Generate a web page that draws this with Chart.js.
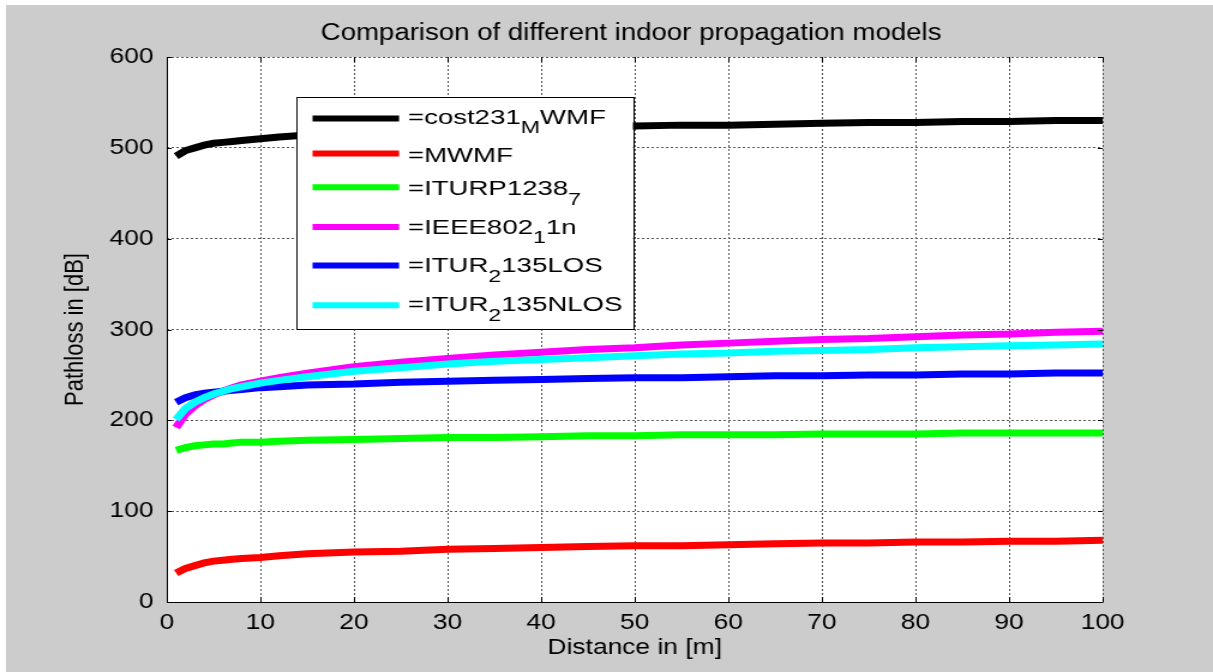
<!DOCTYPE html>
<html>
<head>
<meta charset="utf-8">
<script src="https://cdn.jsdelivr.net/npm/chart.js@4.4.0/dist/chart.umd.min.js"></script>
<style>
  html, body { margin: 0; padding: 0; background: #fff; overflow: hidden; }
  #chart { display: block; }
</style>
</head>
<body>
<!-- the figure is drawn narrower and stretched to the window, like the resized original -->
<canvas id="chart" width="1011" height="672" style="width:1213px;height:672px"></canvas>
<script>
// ------------------------------
// data
// ------------------------------
const distance = [1, 2, 3, 4, 5, 6, 7, 8, 10, 12, 15, 20, 25, 30, 35, 40, 45, 50, 55, 60, 65, 70, 75, 80, 85, 90, 95, 100];

const cost231Mwmf = [491, 497, 500, 503, 505, 506, 507, 508, 510, 512, 514, 516, 518, 520, 521, 522, 523, 524, 525, 525, 526, 527, 528, 528, 529, 529, 530, 530];
const mwmf = [32, 37, 40, 43, 45, 46, 47, 48, 49, 51, 53, 55, 56, 58, 59, 60, 61, 62, 62, 63, 64, 65, 65, 66, 66, 67, 67, 68];
const iturp1238 = [167, 170, 172, 173, 174, 174, 175, 176, 176, 177, 178, 179, 180, 181, 181, 182, 183, 183, 184, 184, 184, 185, 185, 185, 186, 186, 186, 186];
const ieee80211n = [192, 207, 216, 223, 228, 232, 236, 239, 243, 247, 252, 259, 264, 268, 272, 275, 278, 280, 283, 285, 287, 289, 290, 292, 294, 295, 297, 298];
const itur2135Los = [220, 225, 228, 230, 231, 232, 233, 234, 236, 237, 239, 240, 242, 243, 244, 245, 246, 247, 247, 248, 249, 249, 250, 250, 251, 251, 252, 252];
const itur2135Nlos = [201, 213, 220, 225, 229, 232, 235, 237, 241, 244, 248, 254, 258, 262, 265, 267, 269, 271, 273, 274, 276, 277, 278, 280, 281, 282, 283, 284];

// "_x" means x is a subscript (TeX style, as in the original legend)
const seriesLabels = ['=cost231_MWMF', '=MWMF', '=ITURP1238_7', '=IEEE802_11n', '=ITUR_2135LOS', '=ITUR_2135NLOS'];
const seriesValues = [cost231Mwmf, mwmf, iturp1238, ieee80211n, itur2135Los, itur2135Nlos];
const seriesColors = ['#000000', '#ff0000', '#00ff00', '#ff00ff', '#0000ff', '#00ffff'];

const xTickValues = [0, 10, 20, 30, 40, 50, 60, 70, 80, 90, 100];
const yTickValues = [0, 100, 200, 300, 400, 500, 600];

const titleText = 'Comparison of different indoor propagation models';
const xTitle = 'Distance in [m]';
const yTitle = 'Pathloss in [dB]';

const FONT = '"Liberation Sans", Arial, Helvetica, sans-serif';
Chart.defaults.font.family = FONT;
Chart.defaults.color = '#000';

// draw "abc_Xdef" with X lowered and smaller
function drawRich(ctx, text, x, baseline, size) {
    const parts = [];
    for (let i = 0; i < text.length; i++) {
        if (text[i] === '_' && i + 1 < text.length) {
            parts.push({ t: text[i + 1], sub: true });
            i++;
        } else if (parts.length && !parts[parts.length - 1].sub) {
            parts[parts.length - 1].t += text[i];
        } else {
            parts.push({ t: text[i], sub: false });
        }
    }
    ctx.save();
    ctx.translate(x, baseline);
    ctx.scale(1.15, 1);
    let cx = 0;
    parts.forEach(p => {
        const s = p.sub ? size * 0.84 : size;
        ctx.font = s + 'px ' + FONT;
        ctx.fillText(p.t, cx, p.sub ? 9.6 : 0);
        cx += ctx.measureText(p.t).width;
    });
    ctx.restore();
}

// legend layout (row positions inside the box)
const legendLineY = [21.6, 56.6, 90.3, 130, 168.6, 208.3];
const legendBaseY = [26.7, 65, 98.3, 136.6, 175, 214];

const figure = {
    id: 'figure',
    beforeDraw(chart) {
        const { ctx, width, height, chartArea: a } = chart;
        ctx.save();
        ctx.fillStyle = '#ffffff';
        ctx.fillRect(0, 0, width, height);
        ctx.fillStyle = '#cccccc';
        ctx.fillRect(5, 5, width - 5, height - 5);
        ctx.fillStyle = '#ffffff';
        ctx.fillRect(a.left, a.top, a.right - a.left, a.bottom - a.top);
        // title
        ctx.fillStyle = '#000';
        ctx.font = '23px ' + FONT;
        ctx.textAlign = 'center';
        ctx.textBaseline = 'middle';
        ctx.fillText(titleText, (a.left + a.right) / 2 - 3, 34);
        ctx.restore();
    },
    afterDatasetsDraw(chart) {
        const { ctx, chartArea: a, scales: { x, y } } = chart;
        ctx.save();
        // axes with inward ticks
        ctx.strokeStyle = '#000';
        ctx.lineWidth = 1;
        ctx.beginPath();
        ctx.moveTo(a.left + 0.5, a.top);
        ctx.lineTo(a.left + 0.5, a.bottom + 0.5);
        ctx.lineTo(a.right + 0.5, a.bottom + 0.5);
        x.ticks.forEach(t => {
            const px = Math.round(x.getPixelForValue(t.value)) + 0.5;
            ctx.moveTo(px, a.bottom);
            ctx.lineTo(px, a.bottom - 5);
            ctx.moveTo(px, a.top);
            ctx.lineTo(px, a.top + 5);
        });
        y.ticks.forEach(t => {
            const py = Math.round(y.getPixelForValue(t.value)) + 0.5;
            ctx.moveTo(a.left, py);
            ctx.lineTo(a.left + 4, py);
            ctx.moveTo(a.right, py);
            ctx.lineTo(a.right - 4, py);
        });
        ctx.stroke();

        // legend box
        const bx = a.left + 108, by = a.top + 40, bw = 280.5, bh = 232;
        ctx.fillStyle = '#fff';
        ctx.fillRect(bx, by, bw, bh);
        ctx.strokeStyle = '#000';
        ctx.strokeRect(Math.round(bx) + 0.5, Math.round(by) + 0.5, Math.round(bw), Math.round(bh));
        chart.data.datasets.forEach((ds, i) => {
            ctx.strokeStyle = ds.borderColor;
            ctx.lineWidth = 6;
            ctx.beginPath();
            ctx.moveTo(bx + 13.5, by + legendLineY[i]);
            ctx.lineTo(bx + 85.6, by + legendLineY[i]);
            ctx.stroke();
            ctx.fillStyle = '#000';
            ctx.textBaseline = 'alphabetic';
            ctx.textAlign = 'left';
            drawRich(ctx, ds.label, bx + 93, by + legendBaseY[i], 20);
        });
        ctx.restore();
    }
};

new Chart(document.getElementById('chart'), {
    type: 'line',
    data: {
        datasets: seriesLabels.map((label, i) => ({
            label: label,
            data: distance.map((d, j) => ({ x: d, y: seriesValues[i][j] })),
            borderColor: seriesColors[i],
            backgroundColor: seriesColors[i],
            borderWidth: 7,
            pointRadius: 0,
            tension: 0,
            fill: false,
            order: seriesLabels.length - i
        }))
    },
    plugins: [figure],
    options: {
        responsive: false,
        animation: false,
        events: [],
        layout: { padding: { top: 57, right: 92, bottom: 0, left: 0 } },
        plugins: {
            legend: { display: false },
            title: { display: false },
            tooltip: { enabled: false }
        },
        scales: {
            x: {
                type: 'linear',
                min: 0,
                max: 100,
                afterBuildTicks: s => { s.ticks = xTickValues.map(v => ({ value: v })); },
                afterFit: s => { s.height = 70; },
                grid: { color: '#555', lineWidth: 1, drawTicks: false },
                border: { display: false, dash: [2, 2] },
                ticks: { padding: 8, maxRotation: 0, autoSkip: false, font: { size: 22 } },
                title: { display: true, text: xTitle, font: { size: 22 }, padding: { top: 0, bottom: 10.5 } }
            },
            y: {
                min: 0,
                max: 600,
                afterBuildTicks: s => { s.ticks = yTickValues.map(v => ({ value: v })); },
                afterFit: s => { s.width = 139; },
                grid: { color: '#555', lineWidth: 1, drawTicks: false },
                border: { display: false, dash: [2, 2] },
                ticks: { padding: 11, font: { size: 22 } },
                title: { display: true, text: yTitle, font: { size: 22 }, padding: { top: 49.5, bottom: 0 } }
            }
        }
    }
});
</script>
</body>
</html>
